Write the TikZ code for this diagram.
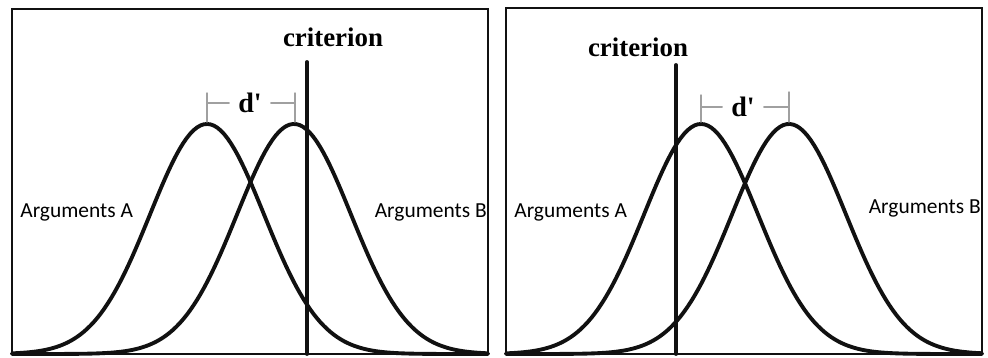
\documentclass[tikz,border=0pt]{standalone}
\usepackage{fontspec}
\setmainfont{Liberation Serif}
\newfontfamily\labelfont{Carlito}
\usetikzlibrary{arrows.meta}
\definecolor{curveink}{HTML}{111111}
\definecolor{barink}{HTML}{A0A0A0}

\begin{document}
\begin{tikzpicture}[x=0.02cm,y=-0.02cm,line cap=round,
  declare function={gauss(\x,\m)=354-230*exp(-0.5*((\x-\m)/57)^2);},
  curve/.style={curveink,line width=2.2pt},
  frame/.style={curveink,line width=1.2pt},
  dbar/.style={barink,line width=.8pt},
  argtext/.style={font=\labelfont\fontsize{12.2}{14}\selectfont,inner sep=0pt},
  crittext/.style={font=\bfseries\fontsize{15.3}{18}\selectfont,inner sep=0pt},
  dtext/.style={font=\bfseries\fontsize{16}{18}\selectfont,inner sep=5pt}]
  \useasboundingbox (0,0) rectangle (988,358);

  % left panel
  \draw[frame] (12,9) rectangle (488,354);
  \draw[curve] plot[domain=12:488,samples=140] (\x,{gauss(\x,207)});
  \draw[curve] plot[domain=12:488,samples=140] (\x,{gauss(\x,294)});
  \coordinate (critLtop) at (307,62);
  \coordinate (critLbot) at (307,354);
  \draw[curve] (critLtop) -- (critLbot);
  \node[crittext] (critL) at (333,37) {criterion};
  \node[dtext] (dL) at (250,103) {d\textquotesingle};
  \draw[dbar] (207,93) -- (207,122);
  \draw[dbar] (295,93) -- (295,122);
  \draw[dbar] (207,103) -- (dL.west);
  \draw[dbar] (dL.east) -- (295,103);
  \node[argtext,anchor=west] (argAL) at (20,212) {Arguments A};
  \node[argtext,anchor=east] (argBL) at (487,212) {Arguments B};

  % right panel
  \draw[frame] (506,8) rectangle (982,354);
  \draw[curve] plot[domain=506:982,samples=140] (\x,{gauss(\x,701)});
  \draw[curve] plot[domain=506:982,samples=140] (\x,{gauss(\x,789)});
  \coordinate (critRtop) at (676,65);
  \coordinate (critRbot) at (676,354);
  \draw[curve] (critRtop) -- (critRbot);
  \node[crittext] (critR) at (638,47) {criterion};
  \node[dtext] (dR) at (743,107) {d\textquotesingle};
  \draw[dbar] (701,95) -- (701,122);
  \draw[dbar] (789,92) -- (789,122);
  \draw[dbar] (701,107) -- (dR.west);
  \draw[dbar] (dR.east) -- (789,107);
  \node[argtext,anchor=west] (argAR) at (514,212) {Arguments A};
  \node[argtext,anchor=east] (argBR) at (981,208) {Arguments B};
\end{tikzpicture}
\end{document}
